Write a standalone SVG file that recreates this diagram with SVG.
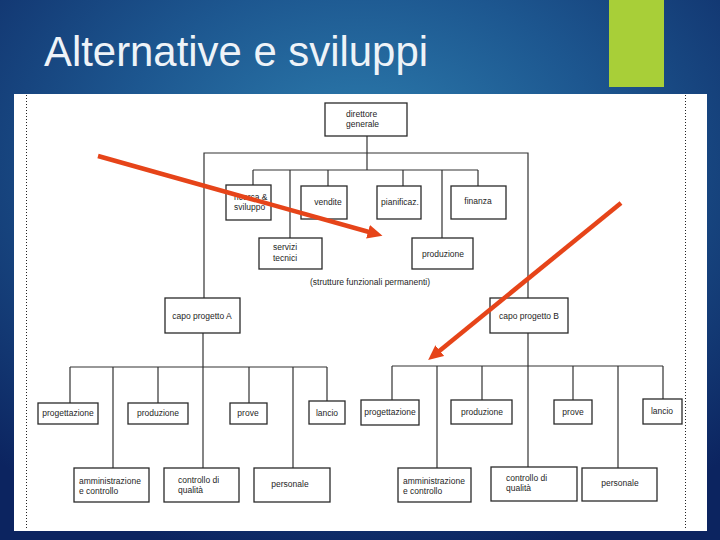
<svg xmlns="http://www.w3.org/2000/svg" width="720" height="540" viewBox="0 0 720 540">
<defs>
  <radialGradient id="bg" cx="0.5" cy="0.3" r="0.75">
    <stop offset="0" stop-color="#2e80b0"/>
    <stop offset="0.45" stop-color="#1d5790"/>
    <stop offset="1" stop-color="#0c2460"/>
  </radialGradient>
  <marker id="ah" markerUnits="userSpaceOnUse" markerWidth="15" markerHeight="14" viewBox="0 0 15 14" refX="1" refY="7" orient="auto">
    <path d="M0,0 L15,7 L0,14 z" fill="#e64419"/>
  </marker>
  <style>
    .box { fill: #ffffff; stroke: #2a2a2a; stroke-width: 1.3; }
    .ln { fill: none; stroke: #333333; stroke-width: 1.2; }
    .t { font-family: "Liberation Sans", Arial, sans-serif; font-size: 8.5px; fill: #1e1e1e; }
    .c { text-anchor: middle; }
    .arrow { stroke: #e64419; stroke-width: 4.5; fill: none; }
    .dot { stroke: #222222; stroke-width: 1; stroke-dasharray: 1 2; }
  </style>
</defs>

<rect x="0" y="0" width="720" height="540" fill="url(#bg)"/>
<rect x="609" y="0" width="55" height="87" fill="#a8cf38"/>
<text x="44" y="66" font-family="'Liberation Sans', Arial, sans-serif" font-size="42" textLength="384" lengthAdjust="spacingAndGlyphs" fill="#eef3f8">Alternative e sviluppi</text>

<rect x="14" y="94" width="693" height="437" fill="#ffffff"/>
<line class="dot" x1="26.5" y1="95" x2="26.5" y2="530"/>
<line class="dot" x1="685.5" y1="95" x2="685.5" y2="530"/>

<g id="connectors">
  <path class="ln" d="M367,136 V170"/>
  <path class="ln" d="M204,298 V153 H528 V298"/>
  <path class="ln" d="M253,170 H478"/>
  <path class="ln" d="M253,170 V185 M290,170 V238 M328,170 V186 M403,170 V186 M442,170 V238 M478,170 V186"/>
  <path class="ln" d="M203,333 V468"/>
  <path class="ln" d="M70,367 H327"/>
  <path class="ln" d="M70,367 V403 M113,367 V468 M158,367 V403 M249,367 V403 M293,367 V468 M327,367 V401"/>
  <path class="ln" d="M528,333 V467"/>
  <path class="ln" d="M392,366 H663"/>
  <path class="ln" d="M392,366 V400 M437,366 V468 M482,366 V400 M573,366 V400 M618,366 V468 M663,366 V399"/>
</g>

<g id="direttore">
  <rect class="box" x="325" y="103" width="82" height="33"/>
  <text class="t" x="346" y="117">direttore</text>
  <text class="t" x="346" y="127">generale</text>
</g>
<g id="ricerca">
  <rect class="box" x="226" y="185" width="45" height="35"/>
  <text class="t" x="234" y="200">ricerca &amp;</text>
  <text class="t" x="234" y="210">sviluppo</text>
</g>
<g id="vendite">
  <rect class="box" x="301" y="186" width="46" height="33"/>
  <text class="t c" x="328" y="205">vendite</text>
</g>
<g id="pianificaz">
  <rect class="box" x="377" y="186" width="44" height="33"/>
  <text class="t c" x="400" y="205">pianificaz.</text>
</g>
<g id="finanza">
  <rect class="box" x="451" y="186" width="55" height="33"/>
  <text class="t c" x="478" y="204">finanza</text>
</g>
<g id="servizi">
  <rect class="box" x="259" y="238" width="63" height="31"/>
  <text class="t" x="273" y="250">servizi</text>
  <text class="t" x="273" y="261">tecnici</text>
</g>
<g id="produzione-f">
  <rect class="box" x="412" y="238" width="61" height="31"/>
  <text class="t c" x="443" y="257">produzione</text>
</g>
<text class="t c" x="370" y="285">(strutture funzionali permanenti)</text>

<g id="capoA">
  <rect class="box" x="165" y="298" width="75" height="35"/>
  <text class="t c" x="202" y="319" font-size="9">capo progetto A</text>
</g>
<g id="capoB">
  <rect class="box" x="490" y="298" width="78" height="35"/>
  <text class="t c" x="529" y="319" font-size="9">capo progetto B</text>
</g>

<g id="progA">
  <rect class="box" x="38" y="403" width="60" height="21"/>
  <text class="t c" x="68" y="416">progettazione</text>
</g>
<g id="prodA">
  <rect class="box" x="128" y="403" width="60" height="21"/>
  <text class="t c" x="158" y="416">produzione</text>
</g>
<g id="proveA">
  <rect class="box" x="230" y="403" width="37" height="21"/>
  <text class="t c" x="248" y="416">prove</text>
</g>
<g id="lancioA">
  <rect class="box" x="309" y="401" width="36" height="23"/>
  <text class="t c" x="327" y="416">lancio</text>
</g>
<g id="ammA">
  <rect class="box" x="74" y="468" width="75" height="34"/>
  <text class="t" x="79" y="484">amministrazione</text>
  <text class="t" x="79" y="494">e controllo</text>
</g>
<g id="qualA">
  <rect class="box" x="164" y="468" width="75" height="34"/>
  <text class="t" x="178" y="483">controllo di</text>
  <text class="t" x="178" y="493">qualità</text>
</g>
<g id="persA">
  <rect class="box" x="254" y="468" width="76" height="34"/>
  <text class="t c" x="290" y="487">personale</text>
</g>

<g id="progB">
  <rect class="box" x="361" y="400" width="58" height="25"/>
  <text class="t c" x="390" y="415">progettazione</text>
</g>
<g id="prodB">
  <rect class="box" x="451" y="400" width="61" height="24"/>
  <text class="t c" x="482" y="415">produzione</text>
</g>
<g id="proveB">
  <rect class="box" x="554" y="400" width="38" height="24"/>
  <text class="t c" x="573" y="415">prove</text>
</g>
<g id="lancioB">
  <rect class="box" x="643" y="399" width="39" height="25"/>
  <text class="t c" x="662" y="414">lancio</text>
</g>
<g id="ammB">
  <rect class="box" x="398" y="468" width="73" height="34"/>
  <text class="t" x="403" y="484">amministrazione</text>
  <text class="t" x="403" y="494">e controllo</text>
</g>
<g id="qualB">
  <rect class="box" x="491" y="467" width="86" height="34"/>
  <text class="t" x="506" y="481">controllo di</text>
  <text class="t" x="506" y="491">qualità</text>
</g>
<g id="persB">
  <rect class="box" x="582" y="468" width="75" height="33"/>
  <text class="t c" x="620" y="486">personale</text>
</g>

<g id="arrows">
  <line class="arrow" x1="98" y1="156" x2="369" y2="232" marker-end="url(#ah)"/>
  <line class="arrow" x1="621" y1="203" x2="439" y2="351.2" marker-end="url(#ah)"/>
</g>
</svg>
